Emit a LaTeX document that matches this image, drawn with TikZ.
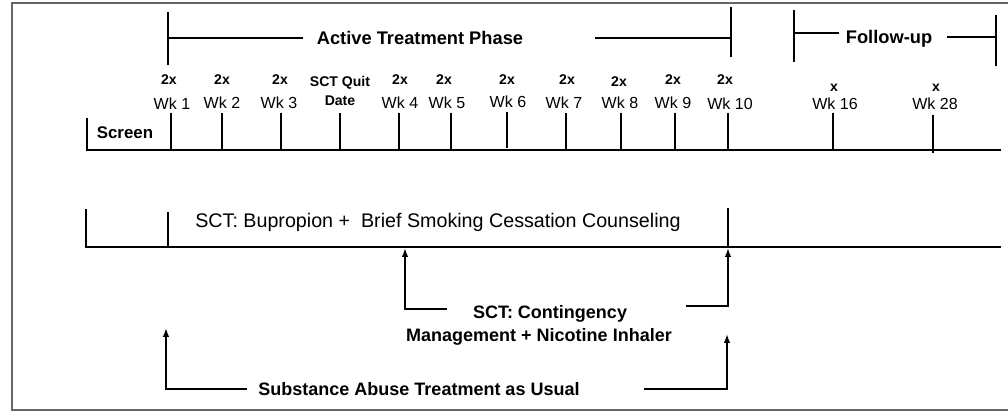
\documentclass[tikz,border=0pt]{standalone}
\usepackage{fontspec}
\setmainfont{Liberation Sans}
\usetikzlibrary{positioning,arrows.meta}
\tikzset{
  tline/.style={line width=1.3pt},
  heavyline/.style={line width=1.9pt},
  uparrow/.style={-{Latex[length=2.2mm,width=1.6mm]}, line width=1.3pt},
  heavyarrow/.style={-{Latex[length=2.2mm,width=1.6mm]}, line width=1.9pt},
  framebox/.style={line width=1pt, draw=black!60},
  wklabel/.style={font=\fontsize{11.4}{12}\selectfont, inner sep=0pt, anchor=base},
  freqlabel/.style={font=\fontsize{10}{11}\selectfont\bfseries, inner sep=0pt, anchor=base},
  phaselabel/.style={font=\fontsize{13}{14}\selectfont\bfseries, inner sep=0pt, anchor=base},
  armlabel/.style={font=\fontsize{12.8}{14}\selectfont\bfseries, inner sep=0pt, anchor=base},
  druglabel/.style={font=\fontsize{14}{15}\selectfont, inner sep=0pt, anchor=base}
}

\begin{document}
\begin{tikzpicture}[x=0.025cm, y=-0.025cm]
  \useasboundingbox (0,0) rectangle (1008,412);
  \draw[framebox] (1010,3) -- (12,3) -- (12,410) -- (1010,410);

  % phases
  \draw[tline] (168,12) -- (168,65);
  \draw[tline] (731,7) -- (731,57);
  \node[phaselabel] (active) at (420,44.5) {Active Treatment Phase};
  \coordinate (activeL) at (168,38);
  \coordinate (activeR0) at (595,38);
  \coordinate (activeR) at (731,38);
  \draw[tline] (activeL) -- (303,38);
  \draw[tline] (activeR0) -- (activeR);

  \draw[tline] (794,10) -- (794,62);
  \draw[tline] (996,15) -- (996,66);
  \node[phaselabel] (follow) at (889,43.5) {Follow-up};
  \draw[tline] (794,33) -- (839,33);
  \draw[tline] (947,37) -- (996,37);

  % timeline
  \draw[tline] (87,118) -- (87,150) -- (1001,150);
  \node[font=\fontsize{12}{13}\selectfont\bfseries, inner sep=0pt, anchor=base] (screen) at (125,139) {Screen};
  \draw[tline] (171,113) -- (171,150);
  \draw[tline] (222,113) -- (222,150);
  \draw[tline] (281,113) -- (281,150);
  \draw[tline] (340,113) -- (340,150);
  \draw[tline] (399,113) -- (399,150);
  \draw[tline] (451,113) -- (451,150);
  \draw[tline] (507,112) -- (507,148);
  \draw[tline] (566,113) -- (566,150);
  \draw[tline] (621,113) -- (621,150);
  \draw[tline] (675,113) -- (675,150);
  \draw[heavyline] (728,113) -- (728,150);
  \draw[tline] (833,113) -- (833,150);
  \draw[tline] (933,115) -- (933,153);

  \node[freqlabel] (f1) at (169,85) {2x};
  \node[wklabel] (wk1) at (172,110) {Wk 1};
  \node[freqlabel] (f2) at (222,85) {2x};
  \node[wklabel] (wk2) at (222,109) {Wk 2};
  \node[freqlabel] (f3) at (280,85) {2x};
  \node[wklabel] (wk3) at (279,109) {Wk 3};
  \node[freqlabel] (quit) at (340,87) {SCT Quit};
  \node[freqlabel] (date) at (340,106) {Date};
  \node[freqlabel] (f4) at (400,85) {2x};
  \node[wklabel] (wk4) at (400,109) {Wk 4};
  \node[freqlabel] (f5) at (444,85) {2x};
  \node[wklabel] (wk5) at (447,109) {Wk 5};
  \node[freqlabel] (f6) at (507,85) {2x};
  \node[wklabel] (wk6) at (508,108) {Wk 6};
  \node[freqlabel] (f7) at (567,85) {2x};
  \node[wklabel] (wk7) at (564,109) {Wk 7};
  \node[freqlabel] (f8) at (619,87) {2x};
  \node[wklabel] (wk8) at (620,109) {Wk 8};
  \node[freqlabel] (f9) at (673,85) {2x};
  \node[wklabel] (wk9) at (673,109) {Wk 9};
  \node[freqlabel] (f10) at (725,85) {2x};
  \node[wklabel] (wk10) at (730,110) {Wk 10};
  \node[freqlabel] (x16) at (834,92) {x};
  \node[wklabel] (wk16) at (835,110) {Wk 16};
  \node[freqlabel] (x28) at (936,92) {x};
  \node[wklabel] (wk28) at (935,110) {Wk 28};

  % treatment arms
  \draw[tline] (86,209) -- (86,247) -- (1001,247);
  \draw[tline] (168,212) -- (168,248);
  \draw[heavyline] (728,208) -- (728,247);
  \node[druglabel] (bup) at (438,228) {SCT: Bupropion +\ \ Brief Smoking Cessation Counseling};

  \node[armlabel] (cm1) at (550,318.5) {SCT: Contingency};
  \node[armlabel] (cm2) at (539,341.5) {Management + Nicotine Inhaler};
  \coordinate (cmL) at (447,309);
  \coordinate (cmtipL) at (405,248);
  \coordinate (cmR) at (686,306);
  \coordinate (cmtipR) at (728,248);
  \draw[uparrow] (cmL) -| (cmtipL);
  \draw[heavyarrow] (cmR) -| (cmtipR);

  \node[armlabel] (tau) at (419,395.5) {Substance Abuse Treatment as Usual};
  \coordinate (tauL) at (247,389);
  \coordinate (tautipL) at (166,328);
  \coordinate (tauR) at (644,389);
  \coordinate (tautipR) at (727,334);
  \draw[uparrow] (tauL) -| (tautipL);
  \draw[uparrow] (tauR) -| (tautipR);
\end{tikzpicture}
\end{document}
